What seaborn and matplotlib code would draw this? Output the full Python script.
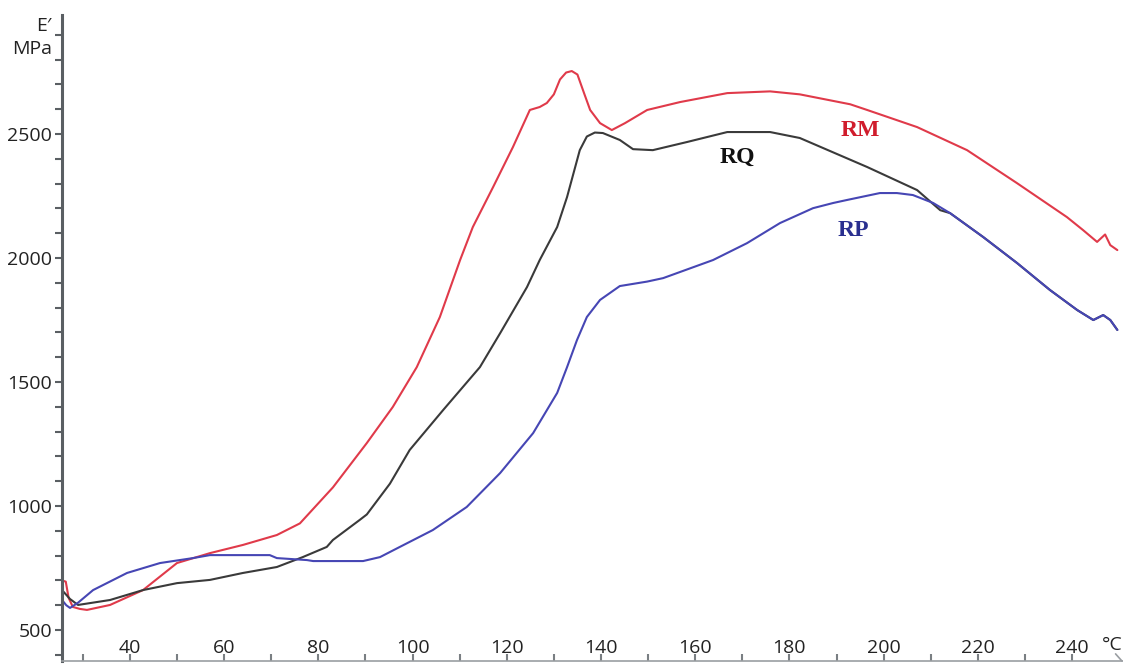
import pandas as pd
import matplotlib
matplotlib.use("Agg")
import matplotlib.pyplot as plt
import seaborn as sns

# temperature (°C) / storage modulus E' (MPa)
rm_temp = [25.6, 26.4, 27.0, 27.9, 29.4, 30.9, 35.8, 42.8, 50.0, 57.0, 64.0, 71.2,
           76.1, 83.1, 90.3, 95.8, 100.9, 105.8, 110.1, 112.8, 117.1, 121.3, 124.9,
           127.0, 128.5, 130.0, 131.3, 132.6, 133.8, 135.0, 136.5, 137.7, 139.8, 142.3,
           145.1, 149.8, 156.8, 166.8, 175.9, 182.2, 192.9, 196.5, 207.1, 217.7,
           228.3, 238.9, 242.3, 245.3, 247.0, 248.1, 249.6]
rm_mod = [700, 695, 630, 593, 585, 581, 601, 661, 770, 810, 843, 883,
          930, 1075, 1254, 1399, 1560, 1762, 1992, 2125, 2286, 2447, 2597,
          2609, 2625, 2660, 2720, 2748, 2754, 2740, 2660, 2597, 2544, 2516,
          2544, 2597, 2629, 2665, 2672, 2660, 2620, 2597, 2528, 2435,
          2302, 2165, 2113, 2065, 2095, 2052, 2032]

rq_temp = [25.6, 27.3, 29.0, 35.8, 42.8, 50.0, 57.0, 64.0, 71.2, 76.7, 81.8, 83.1,
           88.8, 90.3, 95.2, 99.4, 106.5, 114.3, 118.6, 124.3, 127.0, 130.7, 132.8,
           135.5, 137.0, 138.7, 140.4, 144.0, 146.8, 151.0, 158.3, 166.8, 175.9,
           182.2, 196.5, 207.1, 212.0, 214.1, 221.1, 228.3, 235.3, 241.1, 244.5,
           246.6, 248.1, 249.6]
rq_mod = [661, 625, 601, 621, 661, 689, 702, 730, 754, 794, 835, 863,
          944, 966, 1090, 1226, 1387, 1560, 1697, 1883, 1992, 2125, 2246,
          2435, 2490, 2506, 2504, 2476, 2439, 2435, 2468, 2508, 2508,
          2484, 2367, 2274, 2193, 2181, 2085, 1980, 1871, 1790, 1750,
          1770, 1750, 1710]

rp_temp = [25.6, 26.5, 27.3, 29.0, 32.2, 39.4, 46.4, 53.4, 57.0, 69.7, 71.2, 77.6,
           78.9, 89.5, 93.1, 97.3, 104.3, 111.5, 118.6, 125.6, 130.7, 132.8, 134.9,
           137.0, 139.8, 144.0, 149.8, 153.2, 163.8, 171.0, 178.0, 185.0, 189.3,
           192.2, 199.2, 202.8, 206.2, 210.5, 214.1, 221.1, 228.3, 235.3, 241.1,
           244.5, 246.6, 248.1, 249.6]
rp_mod = [621, 600, 589, 610, 661, 730, 770, 790, 802, 802, 790, 782,
          778, 778, 794, 835, 903, 996, 1133, 1294, 1456, 1560, 1669,
          1762, 1831, 1887, 1905, 1919, 1992, 2060, 2141, 2201, 2222,
          2234, 2262, 2262, 2254, 2222, 2181, 2085, 1980, 1871, 1790,
          1750, 1770, 1750, 1710]

series_names = ["RM", "RQ", "RP"]
line_colors = {"RM": "#e03a4a", "RQ": "#3a3a3a", "RP": "#4646b4"}
label_colors = {"RM": "#d01c2c", "RQ": "#111111", "RP": "#2a2f8f"}
label_pos = {"RM": (195.0, 2516), "RQ": (168.9, 2407), "RP": (193.5, 2113)}

x_major = [40, 60, 80, 100, 120, 140, 160, 180, 200, 220, 240]
y_major = [500, 1000, 1500, 2000, 2500]

df = pd.concat([
    pd.DataFrame({"T": rm_temp, "E": rm_mod, "series": "RM"}),
    pd.DataFrame({"T": rq_temp, "E": rq_mod, "series": "RQ"}),
    pd.DataFrame({"T": rp_temp, "E": rp_mod, "series": "RP"}),
], ignore_index=True)

sns.set_style("ticks")
plt.rcParams["font.family"] = ["Open Sans", "DejaVu Sans"]

W, H = 1123, 664
fig = plt.figure(figsize=(W / 100, H / 100), dpi=100)
ax = fig.add_axes([62 / W, 3 / H, 1 - 62 / W, (661 - 15) / H])

for name in ["RM", "RQ", "RP"]:
    sns.lineplot(data=df[df["series"] == name], x="T", y="E", color=line_colors[name],
                 lw=1.5, sort=False, estimator=None, ax=ax)

for name in series_names:
    tx, ty = label_pos[name]
    ax.text(tx, ty, name, color=label_colors[name], fontsize=17, fontweight="bold",
            family="Liberation Serif", ha="center", va="center")

ax.set_xlim(25.6, 250.8)
ax.set_ylim(375, 2980)

ax.set_xticks(x_major)
ax.set_xticks(range(30, 250, 10), minor=True)
ax.set_yticks(y_major)
ax.set_yticks(range(400, 3000, 100), minor=True)

ax.tick_params(axis="y", which="both", direction="out", length=5, width=1.5,
               color="#5a5f63", labelsize=14, labelcolor="#222222", pad=2)
ax.tick_params(axis="x", which="both", direction="in", length=5, width=1.5,
               color="#7a7f83", labelsize=14, labelcolor="#222222", pad=-16)

ax.set_xlabel("")
ax.set_ylabel("")
sns.despine(ax=ax)
ax.spines["left"].set_color("#5a5f63")
ax.spines["left"].set_linewidth(2.2)
ax.spines["bottom"].set_color("#9a9ea2")
ax.spines["bottom"].set_linewidth(1.2)

ax.text(248.5, 0.025, "°C", transform=ax.get_xaxis_transform(), fontsize=14,
        color="#222222", ha="center", va="center")
ax.plot([0.993, 0.999], [0.011, 0.0], transform=ax.transAxes, color="#9a9ea2",
        lw=1.2, clip_on=False)

fig.text(52 / W, 1 - 26 / H, "E\u2032", fontsize=14, color="#222222", ha="right", va="center")
fig.text(52 / W, 1 - 49 / H, "MPa", fontsize=14, color="#222222", ha="right", va="center")

fig.savefig("out.png", dpi=100)
